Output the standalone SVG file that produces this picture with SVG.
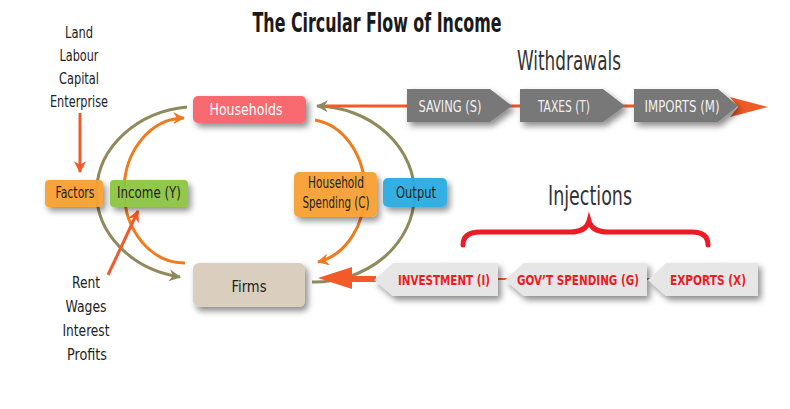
<svg xmlns="http://www.w3.org/2000/svg" width="790" height="409" viewBox="0 0 790 409">
<defs>
<filter id="sh" x="-20%" y="-30%" width="150%" height="180%">
<feDropShadow dx="3" dy="4" stdDeviation="3" flood-color="#000" flood-opacity="0.45"/>
</filter>
<marker id="olv" viewBox="0 0 10 10" refX="9" refY="5" markerWidth="4" markerHeight="4" orient="auto" markerUnits="strokeWidth">
<path d="M0,0 L10,5 L0,10 L3,5 Z" fill="#8e8a5c"/>
</marker>
<marker id="org" viewBox="0 0 10 10" refX="9" refY="5" markerWidth="4" markerHeight="4" orient="auto" markerUnits="strokeWidth">
<path d="M0,0 L10,5 L0,10 L3,5 Z" fill="#f07b1e"/>
</marker>
<marker id="red" viewBox="0 0 10 10" refX="9" refY="5" markerWidth="4" markerHeight="4" orient="auto" markerUnits="strokeWidth">
<path d="M0,0 L10,5 L0,10 L3,5 Z" fill="#f15a29"/>
</marker>
</defs>
<style>
text{font-family:"Liberation Sans Narrow","DejaVu Sans Condensed","Roboto Condensed","Liberation Sans",sans-serif;}
.lbl{font-size:16px;fill:#222;text-anchor:middle;}
.box{filter:url(#sh);}
.node{font-size:15px;fill:#222;text-anchor:middle;}
.wd{font-size:15px;fill:#f0f0f0;text-anchor:middle;}
.inj{font-size:14px;fill:#ed1c24;font-weight:bold;text-anchor:middle;}
.head{font-size:26px;fill:#333;text-anchor:middle;}
.olive{fill:none;stroke:#8e8a5c;stroke-width:3;}
.orange{fill:none;stroke:#f07b1e;stroke-width:3;}
.redl{fill:none;stroke:#f15a29;stroke-width:3;}
</style>
<rect width="790" height="409" fill="#ffffff"/>
<text x="377" y="32" font-size="26" font-weight="bold" fill="#1a1a1a" text-anchor="middle" textLength="249" lengthAdjust="spacingAndGlyphs">The Circular Flow of Income</text>

<g id="connectors">
<path class="olive" d="M187,107 A102,86 0 0 0 180,277" marker-end="url(#olv)"/>
<path class="orange" d="M185,263 A60,72 0 0 1 184,118" marker-end="url(#org)"/>
<path class="orange" d="M315,120 A58,72 0 0 1 318,262" marker-end="url(#org)"/>
<path class="olive" d="M312,282 A100,88 0 0 0 317,106" marker-end="url(#olv)"/>
<line class="redl" x1="326" y1="106" x2="735" y2="106"/>
<polygon points="730,97 768,107 730,117 738,107" fill="#f15a29"/>
<line x1="372" y1="279" x2="650" y2="279" stroke="#f15a29" stroke-width="2"/>
<line x1="350" y1="279" x2="376" y2="279" stroke="#f15a29" stroke-width="6"/>
<polygon points="318,278 352,267 352,289" fill="#f15a29"/>
<line class="redl" x1="80" y1="113" x2="80" y2="172" marker-end="url(#red)"/>
<line class="redl" x1="108" y1="275" x2="138" y2="211" marker-end="url(#red)"/>
<path d="M463,245 Q463,232 480,232 L570,232 Q586,232 589,221 Q592,232 608,232 L692,232 Q708,232 708,245" fill="none" stroke="#ed1c24" stroke-width="5" stroke-linecap="round"/>
</g>

<g id="factor-labels">
<text class="lbl" x="79" y="38" textLength="28" lengthAdjust="spacingAndGlyphs">Land</text>
<text class="lbl" x="79" y="61" textLength="39" lengthAdjust="spacingAndGlyphs">Labour</text>
<text class="lbl" x="79" y="84" textLength="40" lengthAdjust="spacingAndGlyphs">Capital</text>
<text class="lbl" x="79" y="107" textLength="58" lengthAdjust="spacingAndGlyphs">Enterprise</text>
</g>
<g id="income-labels">
<text class="lbl" x="86" y="288" textLength="28" lengthAdjust="spacingAndGlyphs">Rent</text>
<text class="lbl" x="86" y="312" textLength="41" lengthAdjust="spacingAndGlyphs">Wages</text>
<text class="lbl" x="86" y="336" textLength="47" lengthAdjust="spacingAndGlyphs">Interest</text>
<text class="lbl" x="87" y="360" textLength="40" lengthAdjust="spacingAndGlyphs">Profits</text>
</g>

<g id="households">
<rect class="box" x="193" y="96" width="113" height="27" rx="5" fill="#f8696f"/>
<text class="node" x="246" y="115" style="fill:#fff" font-size="16" textLength="73" lengthAdjust="spacingAndGlyphs">Households</text>
</g>
<g id="firms">
<rect class="box" x="193" y="263" width="112" height="44" rx="6" fill="#dacfbf"/>
<text class="node" x="249" y="292" font-size="17" textLength="35" lengthAdjust="spacingAndGlyphs">Firms</text>
</g>
<g id="factors">
<rect class="box" x="45" y="180" width="58" height="27" rx="4" fill="#f7a033" opacity="0.95"/>
<text class="node" x="75" y="198" textLength="39" lengthAdjust="spacingAndGlyphs">Factors</text>
</g>
<g id="income">
<rect class="box" x="110" y="180" width="78" height="27" rx="4" fill="#8dc63f" opacity="0.95"/>
<text class="node" x="149" y="198" textLength="64" lengthAdjust="spacingAndGlyphs">Income (Y)</text>
</g>
<g id="household-spending">
<rect class="box" x="294" y="172" width="83" height="45" rx="5" fill="#f7a033" opacity="0.95"/>
<text class="node" x="336" y="188" textLength="56" lengthAdjust="spacingAndGlyphs">Household</text>
<text class="node" x="336" y="208" textLength="67" lengthAdjust="spacingAndGlyphs">Spending (C)</text>
</g>
<g id="output">
<rect class="box" x="383" y="178" width="64" height="29" rx="5" fill="#29abe2" opacity="0.95"/>
<text class="node" x="416" y="198" textLength="40" lengthAdjust="spacingAndGlyphs">Output</text>
</g>

<text class="head" x="569" y="70" textLength="104" lengthAdjust="spacingAndGlyphs">Withdrawals</text>
<g id="saving">
<polygon class="box" points="407,89 490,89 512,106 490,122 407,122" fill="#787878"/>
<text class="wd" x="450" y="112" textLength="63" lengthAdjust="spacingAndGlyphs">SAVING (S)</text>
</g>
<g id="taxes">
<polygon class="box" points="520,89 603,89 625,106 603,122 520,122" fill="#787878"/>
<text class="wd" x="564" y="112" textLength="52" lengthAdjust="spacingAndGlyphs">TAXES (T)</text>
</g>
<g id="imports">
<polygon class="box" points="634,89 718,89 738,106 718,122 634,122" fill="#787878"/>
<text class="wd" x="682" y="112" textLength="75" lengthAdjust="spacingAndGlyphs">IMPORTS (M)</text>
</g>

<text class="head" x="590" y="205" textLength="84" lengthAdjust="spacingAndGlyphs">Injections</text>
<g id="investment">
<polygon class="box" points="393,263 498,263 498,296 393,296 374,280" fill="#e6e6e6"/>
<text class="inj" x="444" y="285" textLength="92" lengthAdjust="spacingAndGlyphs">INVESTMENT (I)</text>
</g>
<g id="govt-spending">
<polygon class="box" points="524,263 647,263 647,296 524,296 505,280" fill="#e6e6e6"/>
<text class="inj" x="578" y="285" textLength="122" lengthAdjust="spacingAndGlyphs">GOV’T SPENDING (G)</text>
</g>
<g id="exports">
<polygon class="box" points="666,263 758,263 758,296 666,296 648,280" fill="#e6e6e6"/>
<text class="inj" x="708" y="285" textLength="76" lengthAdjust="spacingAndGlyphs">EXPORTS (X)</text>
</g>
</svg>
